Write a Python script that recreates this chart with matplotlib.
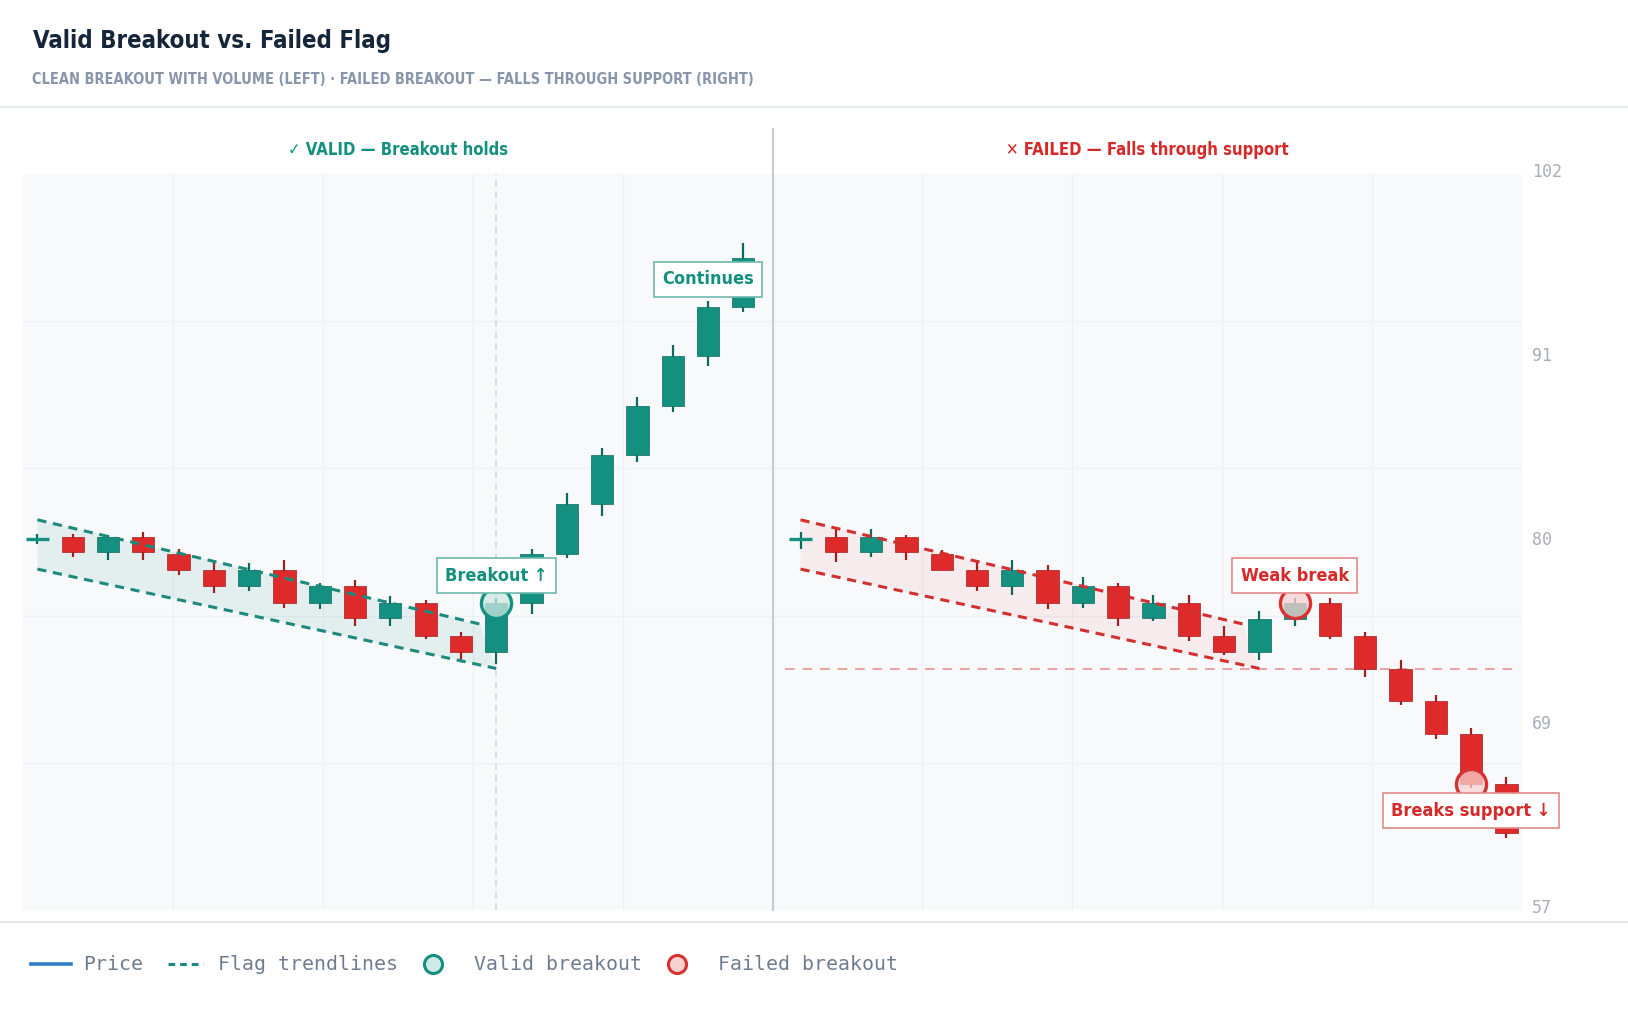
import numpy as np
import matplotlib.pyplot as plt
from matplotlib import font_manager
from matplotlib.font_manager import FontProperties
from matplotlib.lines import Line2D
from matplotlib.textpath import TextPath
from matplotlib.transforms import ScaledTranslation

# ------------------------------------------------------------------------------------
# values
# left panel: flag that breaks out and keeps going
valid_open  = [80.0, 80.1, 79.2, 80.1, 79.1, 78.1, 77.1, 78.1, 76.1, 77.1, 75.2,
               76.1, 74.1, 73.1, 76.1, 79.1, 82.1, 85.1, 88.1, 91.1, 94.1]
valid_close = [80.0, 79.2, 80.1, 79.2, 78.1, 77.1, 78.1, 76.1, 77.1, 75.2, 76.1,
               74.1, 73.1, 76.1, 79.1, 82.1, 85.1, 88.1, 91.1, 94.1, 97.1]
valid_high  = [80.3, 80.3, 80.2, 80.4, 79.4, 78.6, 78.5, 78.7, 77.3, 77.5, 76.5,
               76.3, 74.3, 76.4, 79.4, 82.8, 85.5, 88.6, 91.8, 94.5, 98.0]
valid_low   = [79.7, 78.9, 78.7, 78.7, 77.8, 76.7, 76.8, 75.8, 75.7, 74.7, 74.7,
               73.9, 72.5, 72.4, 75.4, 78.8, 81.4, 84.7, 87.7, 90.5, 93.8]

# right panel: weak break, then falls through support
failed_open  = [80.0, 80.1, 79.2, 80.1, 79.1, 78.1, 77.1, 78.1, 76.1, 77.1, 75.2,
                76.1, 74.1, 73.1, 75.1, 76.1, 74.1, 72.1, 70.1, 68.1, 65.1]
failed_close = [80.0, 79.2, 80.1, 79.2, 78.1, 77.1, 78.1, 76.1, 77.1, 75.2, 76.1,
                74.1, 73.1, 75.1, 76.1, 74.1, 72.1, 70.1, 68.1, 65.1, 62.1]
failed_high  = [80.4, 80.6, 80.6, 80.2, 79.3, 78.7, 78.7, 78.4, 77.7, 77.3, 76.6,
                76.6, 74.7, 75.6, 76.4, 76.4, 74.3, 72.6, 70.5, 68.5, 65.5]
failed_low   = [79.4, 78.6, 78.9, 78.7, 78.1, 76.8, 76.6, 75.7, 75.8, 74.7, 75.0,
                73.8, 72.9, 72.6, 74.7, 73.9, 71.6, 69.9, 67.8, 64.8, 61.8]

# flag trendlines (candle index, price) - same shape in both panels
flag_upper_x = [0, 12.55]
flag_upper_y = [81.15, 74.8]
flag_lower_x = [0, 13.0]
flag_lower_y = [78.15, 72.1]

support_level = 72.1
support_x = [-0.45, 20.35]

valid_break_idx, valid_break_px = [13], [76.1]
failed_break_idx, failed_break_px = [14, 19], [76.1, 65.1]

# callouts: (panel, candle index, price, text)
callouts = [
    ('valid', 13, 77.75, 'Breakout ↑'),
    ('valid', 19, 95.8, 'Continues'),
    ('failed', 14, 77.75, 'Weak break'),
    ('failed', 19, 63.45, 'Breaks support ↓'),
]

title = 'Valid Breakout vs. Failed Flag'
subtitle = 'CLEAN BREAKOUT WITH VOLUME (LEFT) · FAILED BREAKOUT — FALLS THROUGH SUPPORT (RIGHT)'
panel_titles = ['✓ VALID — Breakout holds', '✕ FAILED — Falls through support']
legend_labels = ['Price', 'Flag trendlines', 'Valid breakout', 'Failed breakout']

y_min, y_max = 57.4, 102.2
x_min, x_max = -0.408, 42.06
right_offset = 21.62      # where the right panel's first candle sits

# ------------------------------------------------------------------------------------
TEAL = '#13907f'
TEAL_DK = '#0c6a5f'
RED = '#de2a2a'
RED_DK = '#a11f1f'
CONDENSED = ('condensed', 'semi-condensed', 'extra-condensed', 'ultra-condensed')


def _num(v, table, default):
    return v if isinstance(v, (int, float)) else table.get(v, default)


def pick_narrow():
    # a bold condensed face if the machine has one, else Roboto
    best = None
    for f in font_manager.fontManager.ttflist:
        if not ('Narrow' in f.name or 'Condensed' in f.name or f.stretch in CONDENSED):
            continue
        w = _num(f.weight, font_manager.weight_dict, 400)
        sv = _num(f.stretch, font_manager.stretch_dict, 500)
        key = (abs(w - 700) > 100, abs(sv - 250), abs(w - 700))
        if best is None or key < best[0]:
            best = (key, f.name, f.stretch, w)
    if best is None:
        return 'Roboto', 'normal', 700
    return best[1:]


NARROW_NAME, STRETCH, WEIGHT = pick_narrow()
NARROW = [NARROW_NAME, 'DejaVu Sans']
MONO = ['DejaVu Sans Mono']
TXT = dict(family=NARROW, fontstretch=STRETCH, fontweight=WEIGHT)
PROP = FontProperties(family=NARROW, stretch=STRETCH, weight=WEIGHT)
GROW = 1.13   # our face is wider than the original's, so trade a little width for height


def fit(text, width_px):
    # font size (pt, at 100 dpi) that makes text about width_px wide
    w = TextPath((0, 0), text, size=100, prop=PROP).get_extents().width
    return GROW * width_px * 72 / w


W, H = 1628, 1010
fig = plt.figure(figsize=(W / 100, H / 100), dpi=100)
fig.patch.set_facecolor('white')

ax = fig.add_axes([23 / W, 1 - 910 / H, 1499 / W, 736 / H])
ax.set_facecolor('#f8f9fb')
ax.set_xlim(x_min, x_max)
ax.set_ylim(y_min, y_max)
for s in ax.spines.values():
    s.set_visible(False)

# grid: 10 columns, 5 rows; price labels at quarters
ax.set_xticks(np.linspace(x_min, x_max, 11)[1:-1], minor=True)
ax.set_xticks([])
ax.set_yticks(np.linspace(y_min, y_max, 6)[1:-1], minor=True)
yt = np.linspace(y_min, y_max, 5)
ax.set_yticks(yt)
ax.set_yticklabels([f'{v:.0f}' for v in yt], family=MONO, fontsize=12, color='#a7aeb9')
ax.yaxis.tick_right()
ax.tick_params(axis='both', which='both', length=0)
ax.tick_params(axis='y', pad=7)
for lab in ax.get_yticklabels():
    lab.set_transform(lab.get_transform() + ScaledTranslation(0, 4 / 100, fig.dpi_scale_trans))
ax.grid(which='minor', color='#edf0f4', lw=1)
ax.set_axisbelow(True)


def draw_candles(x0, o, c, h, l):
    o, c, h, l = map(np.asarray, (o, c, h, l))
    x = x0 + np.arange(len(o))
    up = c >= o
    body_col = np.where(up, TEAL, RED)
    wick_col = np.where(up, TEAL_DK, RED_DK)
    ax.vlines(x, l, h, colors=wick_col, lw=1.6, zorder=3)
    flat = np.abs(c - o) < 0.05
    ax.bar(x[~flat], np.abs(c - o)[~flat], bottom=np.minimum(o, c)[~flat], width=0.63,
           color=body_col[~flat], edgecolor=wick_col[~flat], lw=0.5, zorder=4)
    ax.hlines(o[flat], x[flat] - 0.315, x[flat] + 0.315, colors=body_col[flat], lw=2.4, zorder=4)


def draw_flag(x0, color, fill):
    ux = np.asarray(flag_upper_x) + x0
    lx = np.asarray(flag_lower_x) + x0
    ax.fill(np.r_[ux, lx[::-1]], np.r_[flag_upper_y, flag_lower_y[::-1]],
            color=fill, lw=0, zorder=2)
    for xs, ys in ((ux, flag_upper_y), (lx, flag_lower_y)):
        ax.plot(xs, ys, color=color, lw=2.2, dashes=(3, 2.2), zorder=5)


# left panel
draw_flag(0, '#1d8a7b', (0.08, 0.55, 0.5, 0.09))
ax.axvline(valid_break_idx[0], color='#d3d8de', lw=1.2, dashes=(4, 3), zorder=1)
draw_candles(0, valid_open, valid_close, valid_high, valid_low)
ax.scatter(valid_break_idx, valid_break_px, s=470, facecolor=(0.8, 0.91, 0.89, 0.75),
           edgecolor=TEAL, lw=2.4, zorder=6)

# right panel
ax.plot(np.asarray(support_x) + right_offset, [support_level] * 2, color='#eba3a3',
        lw=1.4, dashes=(5, 4), zorder=2)
draw_flag(right_offset, '#d22f2f', (0.9, 0.3, 0.3, 0.08))
draw_candles(right_offset, failed_open, failed_close, failed_high, failed_low)
ax.scatter(np.asarray(failed_break_idx) + right_offset, failed_break_px, s=470,
           facecolor=(0.98, 0.82, 0.82, 0.75), edgecolor='#d93030', lw=2.4, zorder=6)

# divider between the two scenarios
x_mid = (x_min + x_max) / 2
ax.axvline(x_mid, ymin=0, ymax=1.061, color='#c6ccd4', lw=1.5, clip_on=False, zorder=2)

# all callouts share one size, taken from the widest one (136 px in the original)
fs_call = fit(callouts[-1][3], 136)
pad = (33 - 0.9 * fs_call * 100 / 72) / (2 * fs_call * 100 / 72)
for panel, idx, py, txt in callouts:
    if panel == 'valid':
        col, edge, xx = TEAL, '#6fb9ae', idx
    else:
        col, edge, xx = '#d42a2a', '#e48a8a', idx + right_offset
    ax.text(xx, py, txt, ha='center', va='center', fontsize=fs_call,
            color=col, zorder=8, clip_on=False,
            bbox=dict(boxstyle=f'square,pad={pad:.2f}', fc='white', ec=edge, lw=1.2), **TXT)

fs_panel = fit(panel_titles[1], 248)
ax.text(0.25, 1.033, panel_titles[0], transform=ax.transAxes, ha='center', va='center',
        fontsize=fs_panel, color=TEAL, **TXT)
ax.text(0.75, 1.033, panel_titles[1], transform=ax.transAxes, ha='center', va='center',
        fontsize=fs_panel, color='#d42a2a', **TXT)

# header
fig.text(33 / W, 1 - 41 / H, title, fontsize=fit(title, 316), color='#15263a',
         va='center', **TXT)
fig.text(32 / W, 1 - 79 / H, subtitle, fontsize=fit(subtitle, 634), color='#8796aa',
         va='center', **TXT)
fig.add_artist(Line2D([0, 1], [1 - 107 / H] * 2, color='#e2e5e9', lw=1.2))
fig.add_artist(Line2D([0, 1], [1 - 922 / H] * 2, color='#e2e5e9', lw=1.2))

# legend, laid out by hand like the original
ly = 1 - 964 / H
fig.add_artist(Line2D([31 / W, 71 / W], [ly, ly], color='#2e7dc1', lw=2.6))
fig.add_artist(Line2D([168 / W, 203 / W], [ly, ly], color='#1d8a7b', lw=2.2, dashes=(2.2, 1.6)))
fig.add_artist(Line2D([433 / W], [ly], ls='none', marker='o', ms=13, mfc='#cfe9e4',
                      mec=TEAL, mew=2.2))
fig.add_artist(Line2D([677 / W], [ly], ls='none', marker='o', ms=13, mfc='#f8d0d0',
                      mec='#d93030', mew=2.2))
for lx, lab in zip([83, 218, 474.5, 717.5], legend_labels):
    fig.text(lx / W, ly, lab, family=MONO, fontsize=14.3, color='#6e7c8f', va='center')

fig.savefig('out.png', dpi=100)
